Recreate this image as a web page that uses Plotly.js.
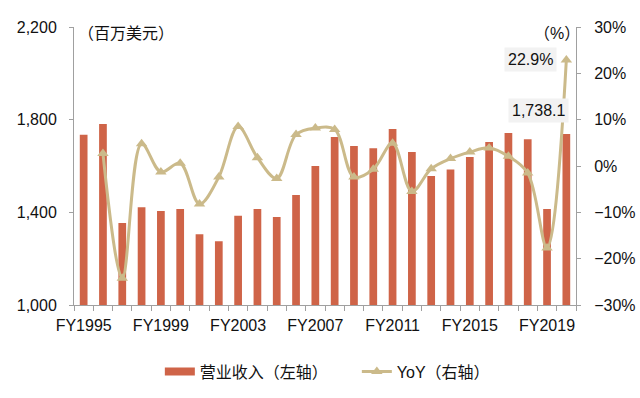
<!DOCTYPE html>
<html>
<head>
<meta charset="utf-8">
<script src="https://cdn.plot.ly/plotly-3.0.1.min.js"></script>
<style>html,body{margin:0;padding:0;background:#fff;}#chart{width:640px;height:398px;}</style>
</head>
<body>
<div id="chart"></div>
<script>
const categories = ["FY1995","FY1996","FY1997","FY1998","FY1999","FY2000","FY2001","FY2002","FY2003","FY2004","FY2005","FY2006","FY2007","FY2008","FY2009","FY2010","FY2011","FY2012","FY2013","FY2014","FY2015","FY2016","FY2017","FY2018","FY2019","FY2020"];
const revenue = [1735, 1781, 1354, 1422, 1406, 1414, 1305, 1275, 1385, 1414, 1380, 1475, 1600, 1725, 1686, 1677, 1760, 1660, 1557, 1585, 1639, 1704, 1742, 1716, 1414, 1738.1];
const yoy = [null, 2.7, -24.2, 4.8, -1.3, 0.6, -8.2, -2.4, 8.5, 1.8, -2.7, 6.8, 8.2, 7.9, -2.4, -0.7, 4.9, -5.5, -0.6, 1.6, 3.0, 3.9, 2.1, -1.5, -17.7, 22.9];
const tickLabels = categories.map((c, i) => (i % 4 === 0 ? c : ""));
const seriesNames = ["营业收入（左轴）", "YoY（右轴）"];
const unitLeft = "（百万美元）";
const unitRight = "（%）";

const FONT = "Liberation Sans, Arial, Noto Sans CJK SC, sans-serif";
const barColor = "#CF6448";
const lineColor = "#CBBA8A";
const axisColor = "#A0A0A0";

const last = categories.length - 1;

const traces = [
  {
    type: "bar", name: seriesNames[0], x: categories, y: revenue,
    marker: {color: barColor}, yaxis: "y", hoverinfo: "skip"
  },
  {
    type: "scatter", mode: "lines+markers", name: seriesNames[1], x: categories, y: yoy,
    yaxis: "y2", line: {color: lineColor, width: 3, shape: "spline"},
    marker: {symbol: "triangle-up", size: 10, color: lineColor},
    connectgaps: false, hoverinfo: "skip"
  }
];

const layout = {
  width: 640, height: 398,
  margin: {l: 74, r: 64, t: 27, b: 93, autoexpand: false},
  paper_bgcolor: "#fff", plot_bgcolor: "#fff",
  font: {family: FONT, size: 16, color: "#111"},
  bargap: 0.6,
  showlegend: true,
  legend: {orientation: "h", x: 0.171, xanchor: "left", y: -0.24, yanchor: "middle",
           font: {family: FONT, size: 16, color: "#111"}, entrywidth: 152, entrywidthmode: "pixels",
           traceorder: "normal"},
  xaxis: {
    type: "category", range: [-0.5, categories.length - 0.5], autorange: false,
    tickmode: "array", tickvals: categories, ticktext: tickLabels,
    tickson: "boundaries", ticks: "outside", ticklen: 5, tickcolor: axisColor,
    showline: true, linecolor: axisColor, linewidth: 1, showgrid: false,
    tickangle: 0, ticklabelstandoff: 6,
    tickfont: {family: FONT, size: 16, color: "#111"}
  },
  yaxis: {
    range: [1000, 2200], dtick: 400, tick0: 1000, tickformat: ",",
    ticks: "outside", ticklen: 4, tickcolor: axisColor,
    showline: true, linecolor: axisColor, showgrid: false, zeroline: false,
    ticklabelstandoff: 9,
    tickfont: {family: FONT, size: 16, color: "#111"}
  },
  yaxis2: {
    overlaying: "y", side: "right", range: [-30, 30], dtick: 10, tick0: -30,
    ticksuffix: "%", ticks: "outside", ticklen: 4, tickcolor: axisColor,
    showline: true, linecolor: axisColor, showgrid: false, zeroline: false,
    ticklabelstandoff: 10,
    tickfont: {family: FONT, size: 16, color: "#111"}
  },
  annotations: [
    {xref: "paper", yref: "paper", x: 0.004, y: 1, xanchor: "left", yanchor: "middle", yshift: -6,
     text: unitLeft, showarrow: false, font: {family: FONT, size: 16, color: "#111"}},
    {xref: "paper", yref: "paper", x: 1.012, y: 1, xanchor: "right", yanchor: "middle", yshift: -6,
     text: unitRight, showarrow: false, font: {family: FONT, size: 16, color: "#111"}},
    {xref: "x", yref: "y2", x: categories[last], y: yoy[last], xanchor: "right", yanchor: "middle",
     xshift: -9, text: yoy[last].toFixed(1) + "%", showarrow: false, bgcolor: "#F2F2F2", borderpad: 3,
     font: {family: FONT, size: 16, color: "#111"}},
    {xref: "x", yref: "y", x: categories[last], y: revenue[last], xanchor: "right", yanchor: "middle",
     xshift: 3, yshift: 24, text: revenue[last].toLocaleString("en-US", {minimumFractionDigits: 1}),
     showarrow: false, bgcolor: "#F2F2F2", borderpad: 3,
     font: {family: FONT, size: 16, color: "#111"}}
  ]
};

function widenBarSwatch(gd) {
  // widen the bar legend swatch into a flat rectangle, as in the reference
  const items = gd.querySelectorAll(".legend .traces");
  if (!items.length) return;
  items[0].querySelectorAll(".legendpoints path").forEach(function (p) {
    p.setAttribute("d", "M-15,4H15V-4H-15Z");
  });
}

const gdEl = document.getElementById("chart");
Plotly.newPlot(gdEl, traces, layout, {staticPlot: true, displayModeBar: false}).then(function (gd) {
  widenBarSwatch(gd);
  gd.on("plotly_afterplot", function () { widenBarSwatch(gd); });
  setTimeout(function () { widenBarSwatch(gd); }, 0);
});
</script>
</body>
</html>
